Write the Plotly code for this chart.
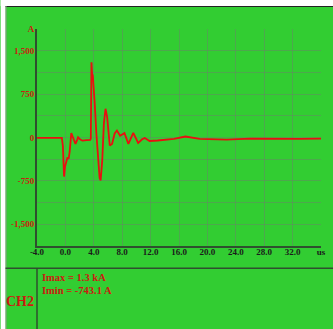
import plotly.graph_objects as go

# Probe CH2 current waveform (time in microseconds, current in amperes)
time_us = [-4.0, -2.0, -0.5, -0.35, -0.19, -0.05, 0.14, 0.3, 0.45, 0.6, 0.83, 1.1,
           1.42, 1.6, 1.79, 2.05, 2.4, 3.0, 3.5, 3.58, 3.67, 3.76, 3.86, 4.0, 4.13,
           4.36, 4.59, 4.82, 4.96, 5.19, 5.42, 5.65, 5.88, 6.11, 6.25, 6.57, 6.94,
           7.26, 7.7, 8.32, 8.87, 9.56, 10.25, 10.8, 11.17, 11.86, 13.0, 15.3, 16.9,
           18.9, 22.7, 26.0, 30.0, 33.0, 36.0]
current_a = [-5, -5, -8, -150, -675, -500, -386, -340, -370, -250, 75, 0,
             -110, -60, 5, -30, -55, -45, -40, -20, 1300, 1100, 1073, 850, 588,
             70, -398, -700, -743.1, -398, 242, 497, 351, -52, -138, -110, 70,
             121, 30, 75, -110, 80, -95, -30, -10, -60, -52, -23, 17,
             -23, -35, -20, -30, -25, -20]

x_ticks = [-4, 0, 4, 8, 12, 16, 20, 24, 28, 32, 36]
x_tick_text = ["-4.0", "0.0", "4.0", "8.0", "12.0", "16.0", "20.0", "24.0", "28.0", "32.0", "us"]
y_ticks = [-1500, -1125, -750, -375, 0, 375, 750, 1125, 1500, 1875]
y_tick_text = ["-1,500", "", "-750", "", "0", "", "750", "", "1,500", "A"]
channel = "CH2"

W, H = 333, 329
ML, MR, MT, MB = 37, 7, 29, 83
PW, PH = W - ML - MR, H - MT - MB


def px_x(p):
    return (p - ML) / PW


def px_y(p):
    return (H - MB - p) / PH


GREEN = "#32CD32"
GRID = "rgba(110,125,110,0.45)"
AXIS = "#2f4f2f"
RED = "#e81010"
LABEL_RED = "#cc1a10"
SERIF = "Liberation Serif"

fig = go.Figure()
fig.add_trace(go.Scatter(x=time_us, y=current_a, mode="lines",
                         line=dict(color=RED, width=1.8), hoverinfo="skip"))

i_max = max(current_a)
i_min = min(current_a)

shapes = [
    # white frame strips on the top and left edges
    dict(type="rect", xref="paper", yref="paper", x0=px_x(0), x1=px_x(W + 10),
         y0=px_y(6), y1=px_y(0), fillcolor="white", line_width=0, layer="above"),
    dict(type="rect", xref="paper", yref="paper", x0=px_x(0), x1=px_x(5),
         y0=px_y(H + 10), y1=px_y(0), fillcolor="white", line_width=0, layer="above"),
    dict(type="line", xref="paper", yref="paper", x0=px_x(5), x1=px_x(W + 10),
         y0=px_y(6.5), y1=px_y(6.5), line=dict(color="#222222", width=1.2)),
    dict(type="line", xref="paper", yref="paper", x0=px_x(5.5), x1=px_x(5.5),
         y0=px_y(6), y1=px_y(H + 10), line=dict(color="#8a9a8a", width=1)),
    # info panel separators
    dict(type="line", xref="paper", yref="paper", x0=px_x(5), x1=px_x(W + 10),
         y0=px_y(268.3), y1=px_y(268.3), line=dict(color=AXIS, width=1.5)),
    dict(type="line", xref="paper", yref="paper", x0=px_x(37), x1=px_x(37),
         y0=px_y(268.3), y1=px_y(H + 10), line=dict(color=AXIS, width=1.5)),
]

annotations = [
    dict(xref="paper", yref="paper", x=px_x(40), y=px_y(277), xanchor="left", yanchor="middle",
         text=f"<b>Imax = {i_max / 1000:.1f} kA</b>", showarrow=False,
         font=dict(family=SERIF, size=10.5, color=LABEL_RED)),
    dict(xref="paper", yref="paper", x=px_x(40), y=px_y(290), xanchor="left", yanchor="middle",
         text=f"<b>Imin = {i_min:.1f} A</b>", showarrow=False,
         font=dict(family=SERIF, size=10.5, color=LABEL_RED)),
    dict(xref="paper", yref="paper", x=px_x(35.5), y=px_y(301), xanchor="right", yanchor="middle",
         text=f"<b>{channel}</b>", showarrow=False,
         font=dict(family=SERIF, size=14, color=LABEL_RED)),
]

fig.update_layout(
    width=W, height=H,
    margin=dict(l=ML, r=MR, t=MT, b=MB, pad=0),
    paper_bgcolor=GREEN, plot_bgcolor=GREEN,
    showlegend=False,
    shapes=shapes, annotations=annotations,
    xaxis=dict(range=[-4, 36], tickmode="array", tickvals=x_ticks, ticktext=x_tick_text,
               showgrid=True, gridcolor=GRID, gridwidth=1, zeroline=False,
               showline=True, linecolor=AXIS, linewidth=2, ticks="",
               ticklabelstandoff=-4,
               tickfont=dict(family=SERIF, size=9, color="#1a1a1a", weight="bold")),
    yaxis=dict(range=[-1875, 1875], tickmode="array", tickvals=y_ticks, ticktext=y_tick_text,
               showgrid=True, gridcolor=GRID, gridwidth=1, zeroline=False,
               showline=True, linecolor=AXIS, linewidth=2, ticks="",
               ticklabelstandoff=-1,
               tickfont=dict(family=SERIF, size=9, color=LABEL_RED, weight="bold")),
)

fig.write_html("out.html", config={"displayModeBar": False})
